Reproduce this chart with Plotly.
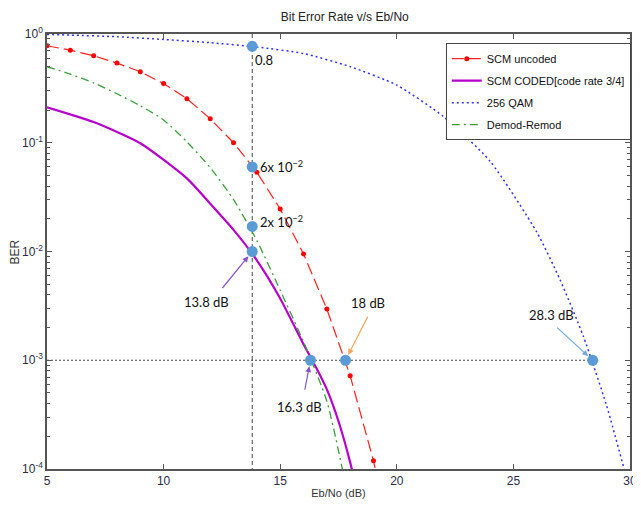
import math
import plotly.graph_objects as go

# ---------------- data ----------------
x_uncoded = [5, 6, 7, 8, 9, 10, 11, 12, 13, 14, 15, 16, 17, 18, 19, 20]
ber_uncoded = [0.78, 0.71, 0.63, 0.54, 0.45, 0.35, 0.254, 0.166, 0.100, 0.0535,
               0.0246, 0.0095, 0.00296, 0.00072, 0.000119, 0.000012]

x_coded = [5, 7, 9, 11, 12, 13, 14, 15, 16, 16.5, 17, 17.5, 18, 18.5]
ber_coded = [0.212, 0.155, 0.099, 0.047, 0.0275, 0.0158, 0.0083, 0.0037,
             0.0014, 0.00089, 0.00054, 0.000275, 0.000115, 0.00004]

x_qam = [5, 6, 8, 10, 12, 14, 16, 18, 20, 22, 24, 26, 27, 28, 29, 30]
ber_qam = [0.99, 0.977, 0.944, 0.891, 0.832, 0.759, 0.661, 0.501, 0.339, 0.174,
           0.0676, 0.0151, 0.0055, 0.00166, 0.00038, 0.000063]

x_demod = [5, 6, 7, 8, 9, 10, 11, 12, 13, 14, 15, 16, 17, 18]
ber_demod = [0.50, 0.427, 0.355, 0.282, 0.219, 0.162, 0.102, 0.059, 0.030,
             0.0126, 0.0044, 0.00148, 0.00042, 0.000045]

# highlighted points
x_pts = [13.8, 13.8, 13.8, 13.8, 16.3, 17.8, 28.4]
ber_pts = [0.77, 0.06, 0.017, 0.01, 0.001, 0.001, 0.001]

# reference lines
x_vline = [13.8, 13.8]
y_vline = [1.0, 1e-4]
x_hline = [5, 28.4]
y_hline = [1e-3, 1e-3]

x_ticks = [5, 10, 15, 20, 25, 30]
y_ticks = [1e-4, 1e-3, 1e-2, 1e-1, 1]
y_ticktext = ["10<sup>-4</sup>", "10<sup>-3</sup>", "10<sup>-2</sup>",
              "10<sup>-1</sup>", "10<sup>0</sup>"]
y_minor = [m * d for d in [1e-4, 1e-3, 1e-2, 1e-1] for m in range(2, 10)]

# text labels: (x, BER, text, anchor)
label_x = [13.84, 14.04, 14.04, 11.83, 18.78, 15.81, 26.63]
label_ber = [0.575, 0.0603, 0.0188, 0.00344, 0.00334, 0.000374, 0.00261]
label_text = ["0.8", "6x 10<sup>−2</sup>", "2x 10<sup>−2</sup>", "13.8 dB",
              "18 dB", "16.3 dB", "28.3 dB"]
label_anchor = ["left", "left", "left", "center", "center", "center", "center"]

# arrows: head point (x, BER), tail offset in px, colour
arrow_x = [13.8, 17.8, 16.3, 28.4]
arrow_ber = [0.01, 0.001, 0.001, 0.001]
arrow_dx = [-31, 23, -6, -37]
arrow_dy = [38, -45, 31, -34]
arrow_col = ["#8a55c0", "#f4a460", "#8a55c0", "#6fa8dc"]

# ---------------- figure ----------------
fig = go.Figure()

fig.add_trace(go.Scatter(x=x_vline, y=y_vline, mode="lines", showlegend=False,
                         line=dict(color="#444444", width=1, dash="4px,3px"),
                         hoverinfo="skip"))
fig.add_trace(go.Scatter(x=x_hline, y=y_hline, mode="lines", showlegend=False,
                         line=dict(color="#444444", width=1, dash="2px,2px"),
                         hoverinfo="skip"))

fig.add_trace(go.Scatter(x=x_uncoded, y=ber_uncoded, mode="lines+markers",
                         name="SCM uncoded", legendgroup="a",
                         line=dict(color="#ff2020", width=1.2, dash="12px,5px"),
                         marker=dict(color="#ff0000", size=5, symbol="circle")))
fig.add_trace(go.Scatter(x=x_coded, y=ber_coded, mode="lines",
                         name="SCM CODED[code rate 3/4]", legendgroup="b",
                         line=dict(color="#b400c8", width=2.2, shape="spline",
                                   smoothing=0.6)))
fig.add_trace(go.Scatter(x=x_qam, y=ber_qam, mode="lines", name="256 QAM",
                         legendgroup="c",
                         line=dict(color="#3030ff", width=1.5, dash="2px,3px",
                                   shape="spline", smoothing=0.6)))
fig.add_trace(go.Scatter(x=x_demod, y=ber_demod, mode="lines", name="Demod-Remod",
                         legendgroup="d",
                         line=dict(color="#3c9c3c", width=1.3,
                                   dash="8px,4px,2px,4px", shape="spline",
                                   smoothing=0.6)))

fig.add_trace(go.Scatter(x=x_pts, y=ber_pts, mode="markers", showlegend=False,
                         marker=dict(color="#5b9bd5", size=11)))

ann_font = dict(family="Lato, Open Sans, sans-serif", size=13, color="#111111")

for tx, ty, tt, anc in zip(label_x, label_ber, label_text, label_anchor):
    fig.add_annotation(x=tx, y=math.log10(ty), text=tt, showarrow=False,
                       xanchor=anc, yanchor="middle", font=ann_font)

for axx, ayy, dx, dy, col in zip(arrow_x, arrow_ber, arrow_dx, arrow_dy, arrow_col):
    fig.add_annotation(x=axx, y=math.log10(ayy), ax=dx, ay=dy, text="",
                       showarrow=True, arrowhead=2, arrowsize=1, arrowwidth=1.2,
                       arrowcolor=col, standoff=6)

# y-axis title as rotated text
fig.add_annotation(x=-0.055, y=0.5, xref="paper", yref="paper", text="BER",
                   textangle=-90, showarrow=False, xanchor="center",
                   yanchor="middle",
                   font=dict(family="Liberation Sans, Arial", size=12,
                             color="#333333"))

axis_common = dict(showline=True, linecolor="#555555", linewidth=1.5,
                   mirror="allticks", ticks="inside", tickcolor="#555555",
                   ticklen=5, showgrid=False, zeroline=False, automargin=False,
                   ticklabeloverflow="allow",
                   tickfont=dict(family="Liberation Sans, Arial",
                                 size=12, color="#2b2b45"))

fig.update_xaxes(range=[5, 30], tickvals=x_ticks,
                 title=dict(text="Eb/No (dB)", standoff=2,
                            font=dict(family="Liberation Sans, Arial", size=11,
                                      color="#333333")),
                 **axis_common)
fig.update_yaxes(type="log", range=[-4, 0], tickvals=y_ticks, ticktext=y_ticktext,
                 minor=dict(ticks="inside", ticklen=3, tickcolor="#555555",
                            tickvals=y_minor, showgrid=False),
                 **axis_common)

# page body has an 8px margin: figure is sized/offset to compensate
fig.update_layout(
    width=633, height=492,
    margin=dict(l=39, r=11, t=26, b=31, autoexpand=False),
    paper_bgcolor="white", plot_bgcolor="white",
    title=dict(text="Bit Error Rate v/s Eb/No", x=0.532, xanchor="center",
               y=0.9817, yanchor="middle",
               font=dict(family="Liberation Sans, Arial",
                         size=12, color="#222222")),
    legend=dict(x=0.684, y=0.979, xanchor="left", yanchor="top",
                bgcolor="white", bordercolor="#444444", borderwidth=1,
                font=dict(family="Liberation Sans, Arial",
                          size=11, color="#111111"),
                tracegroupgap=3, itemwidth=30),
    showlegend=True,
)

fig.write_html("out.html")
